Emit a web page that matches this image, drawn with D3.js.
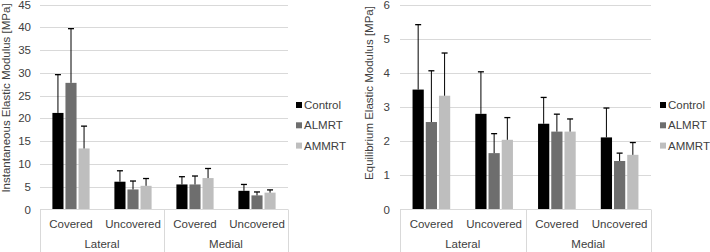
<!DOCTYPE html>
<html><head><meta charset="utf-8">
<script src="https://cdn.jsdelivr.net/npm/d3@7"></script>
<style>body{margin:0;background:#fff}svg{display:block;font-family:"Liberation Sans",Arial,sans-serif}</style>
</head><body><svg id="c" width="710" height="252"></svg>
<script>
const categories = ["Covered","Uncovered","Covered","Uncovered"];
const groups = ["Lateral","Medial"];
const series = ["Control","ALMRT","AMMRT"];
const colors = ["#000000","#6e6e6e","#bebebe"];
// Instantaneous Elastic Modulus [MPa]
const instControl = [21.2, 6.1, 5.5, 4.1];
const instControlErr = [8.4, 2.4, 1.7, 1.4];
const instALMRT = [27.8, 4.4, 5.5, 3.1];
const instALMRTErr = [11.9, 1.85, 1.85, 0.75];
const instAMMRT = [13.4, 5.2, 6.9, 3.7];
const instAMMRTErr = [4.9, 1.6, 2.1, 0.6];
const instTicks = [0,5,10,15,20,25,30,35,40,45];
// Equilibrium Elastic Modulus [MPa]
const eqControl = [3.51, 2.80, 2.51, 2.11];
const eqControlErr = [1.90, 1.23, 0.77, 0.86];
const eqALMRT = [2.56, 1.65, 2.28, 1.42];
const eqALMRTErr = [1.50, 0.57, 0.51, 0.23];
const eqAMMRT = [3.33, 2.04, 2.28, 1.60];
const eqAMMRTErr = [1.25, 0.65, 0.37, 0.36];
const eqTicks = [0,1,2,3,4,5,6];

const svg = d3.select("#c");
const FS = 11.5;
const TXT = "#404040";

function chart(o){
  const g = svg.append("g");
  const y = d3.scaleLinear().domain([0, o.ticks[o.ticks.length-1]]).range([209.5, 4.5]);
  const x0 = d3.scaleBand().domain(d3.range(categories.length)).range([o.left, o.right]);
  const x1 = d3.scaleBand().domain(series).range([x0.bandwidth()*0.2, x0.bandwidth()*0.8]).paddingInner(0.15);
  g.selectAll(".grid").data(o.ticks.filter(t=>t>0)).join("line")
    .attr("x1", o.left).attr("x2", o.right)
    .attr("y1", d=>Math.round(y(d))+0.5).attr("y2", d=>Math.round(y(d))+0.5)
    .attr("stroke","#d9d9d9").attr("stroke-width",1);
  g.selectAll(".tl").data(o.ticks).join("text")
    .attr("x", o.left-o.tickGap).attr("y", d=>y(d)).attr("dy","0.35em")
    .attr("text-anchor","end").attr("font-size",FS).attr("fill",TXT)
    .text(d=>d);
  series.forEach((s,si)=>{
    const vals = o.values[si], errs = o.errs[si];
    const sg = g.append("g");
    const cx = i => x0(i)+x1(s)+x1.bandwidth()/2;
    sg.selectAll("rect").data(vals).join("rect")
      .attr("x",(d,i)=>x0(i)+x1(s)).attr("width",x1.bandwidth())
      .attr("y",d=>y(d)).attr("height",d=>y(0)-y(d))
      .attr("fill",colors[si]);
    sg.selectAll(".eb").data(vals).join("line")
      .attr("x1",(d,i)=>cx(i)).attr("x2",(d,i)=>cx(i))
      .attr("y1",d=>y(d)).attr("y2",(d,i)=>y(d+errs[i]))
      .attr("stroke","#000").attr("stroke-width",1);
    sg.selectAll(".ec").data(vals).join("line")
      .attr("x1",(d,i)=>cx(i)-3).attr("x2",(d,i)=>cx(i)+3)
      .attr("y1",(d,i)=>y(d+errs[i])).attr("y2",(d,i)=>y(d+errs[i]))
      .attr("stroke","#000").attr("stroke-width",1.3);
  });
  g.append("line").attr("x1",o.left).attr("x2",o.right).attr("y1",209.5).attr("y2",209.5).attr("stroke","#d9d9d9");
  const sep = [o.left, (o.left+o.right)/2, o.right];
  g.selectAll(".sep").data(sep).join("line")
    .attr("x1",d=>Math.round(d)+0.5).attr("x2",d=>Math.round(d)+0.5)
    .attr("y1",209.5).attr("y2",252).attr("stroke","#d9d9d9");
  g.selectAll(".cl").data(categories).join("text")
    .attr("x",(d,i)=>x0(i)+x0.bandwidth()/2).attr("y",224).attr("dy","0.35em")
    .attr("text-anchor","middle").attr("font-size",FS).attr("fill",TXT).text(d=>d);
  g.selectAll(".gl").data(groups).join("text")
    .attr("x",(d,i)=>o.left+(o.right-o.left)*(i*2+1)/4).attr("y",244).attr("dy","0.35em")
    .attr("text-anchor","middle").attr("font-size",FS).attr("fill",TXT).text(d=>d);
  g.append("text").attr("transform",`translate(${o.titleX},${o.titleY}) rotate(-90)`)
    .attr("text-anchor","middle").attr("dy","0.35em").attr("font-size",FS).attr("fill",TXT).text(o.title);
  series.forEach((s,si)=>{
    const ly = 105 + si*20.3;
    g.append("rect").attr("x",o.legX).attr("y",ly-3).attr("width",6).attr("height",6).attr("fill",colors[si]);
    g.append("text").attr("x",o.legX+8).attr("y",ly).attr("dy","0.35em").attr("font-size",FS).attr("fill",TXT).text(s);
  });
}

chart({left:40, right:288, ticks:instTicks, tickGap:9,
  values:[instControl,instALMRT,instAMMRT], errs:[instControlErr,instALMRTErr,instAMMRTErr],
  title:"Instantaneous Elastic Modulus [MPa]", titleX:6, titleY:98, legX:296});
chart({left:400, right:651, ticks:eqTicks, tickGap:10,
  values:[eqControl,eqALMRT,eqAMMRT], errs:[eqControlErr,eqALMRTErr,eqAMMRTErr],
  title:"Equilibrium Elastic Modulus [MPa]", titleX:369, titleY:93, legX:660});
</script></body></html>
